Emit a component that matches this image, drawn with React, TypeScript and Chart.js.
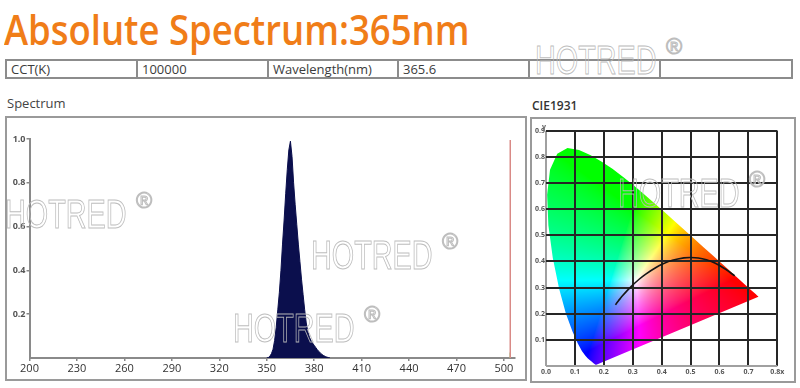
import React, { useEffect, useRef } from 'react';
import { Chart, registerables } from 'chart.js';
Chart.register(...registerables);

// ---------- data ----------
const titleText = 'Absolute Spectrum:365nm';
const tableCells = ['CCT(K)', '100000', 'Wavelength(nm)', '365.6', '', ''];

// Spectrum (relative intensity vs wavelength, nm)
const wavelengths = [350, 351, 352, 353, 354, 355, 356, 357, 358, 359, 360, 361, 362, 363, 364, 365, 366, 367, 368, 369, 370, 371, 372, 373, 374, 375, 376, 377, 378, 379, 380, 381, 382, 383, 384, 385, 386, 387, 388, 389, 390];
const intensities = [0, 0.002, 0.008, 0.02, 0.04, 0.08, 0.14, 0.22, 0.3, 0.4, 0.52, 0.63, 0.75, 0.86, 0.95, 0.99, 0.92, 0.8, 0.7, 0.61, 0.52, 0.44, 0.36, 0.29, 0.22, 0.16, 0.12, 0.095, 0.08, 0.068, 0.058, 0.048, 0.038, 0.03, 0.022, 0.016, 0.011, 0.007, 0.004, 0.002, 0];
const spectrumXTicks = [200, 230, 260, 290, 320, 350, 380, 410, 440, 470, 500];
const spectrumYTicks = [0.2, 0.4, 0.6, 0.8, 1.0];
const markerWavelength = [504, 504];
const markerLevel = [0, 0.995];
const markerBaseLevel = [0, 0.025];

// CIE 1931 spectral locus (x, y)
const locusX = [0.1741, 0.1733, 0.1726, 0.1714, 0.1689, 0.1644, 0.1566, 0.1510, 0.1440, 0.1355, 0.1241, 0.1096, 0.0913, 0.0687, 0.0454, 0.0235, 0.0082, 0.0039, 0.0139, 0.0389, 0.0743, 0.1142, 0.1547, 0.1929, 0.2296, 0.2658, 0.3016, 0.3373, 0.3731, 0.4087, 0.4441, 0.4788, 0.5125, 0.5448, 0.5752, 0.6029, 0.6270, 0.6658, 0.6915, 0.7079, 0.7190, 0.7260, 0.7300, 0.7334, 0.7347];
const locusY = [0.0050, 0.0048, 0.0048, 0.0051, 0.0069, 0.0109, 0.0177, 0.0227, 0.0297, 0.0399, 0.0578, 0.0868, 0.1327, 0.2007, 0.2950, 0.4127, 0.5384, 0.6548, 0.7502, 0.8120, 0.8338, 0.8262, 0.8059, 0.7816, 0.7543, 0.7243, 0.6923, 0.6589, 0.6245, 0.5896, 0.5547, 0.5202, 0.4866, 0.4544, 0.4242, 0.3965, 0.3725, 0.3340, 0.3083, 0.2920, 0.2809, 0.2740, 0.2700, 0.2666, 0.2653];

// Planckian locus (x, y), from 1000 K to very high CCT
const planckX = [0.6528, 0.6200, 0.5857, 0.5550, 0.5267, 0.5000, 0.4770, 0.4369, 0.4053, 0.3805, 0.3451, 0.3221, 0.3064, 0.2952, 0.2807, 0.2637, 0.2565, 0.2501, 0.2432, 0.2399];
const planckY = [0.3444, 0.3710, 0.3931, 0.4060, 0.4133, 0.4150, 0.4137, 0.4041, 0.3907, 0.3768, 0.3516, 0.3318, 0.3166, 0.3048, 0.2884, 0.2674, 0.2577, 0.2489, 0.2384, 0.2340];

const watermarks = [
  { x: 535, y: 45 },
  { x: 5, y: 199 },
  { x: 311, y: 240 },
  { x: 233, y: 313 },
  { x: 618, y: 178 },
];

const NAVY = '#0b0f4d';
const UI_FONT = '"Open Sans", "Noto Sans", sans-serif';

function SpectrumChart() {
  const ref = useRef<HTMLCanvasElement>(null);
  useEffect(() => {
    const chart = new Chart(ref.current!, {
      type: 'scatter',
      data: {
        datasets: [
          {
            data: wavelengths.map((w, i) => ({ x: w, y: intensities[i] })),
            showLine: true,
            fill: 'origin',
            backgroundColor: NAVY,
            borderColor: NAVY,
            borderWidth: 1,
            pointRadius: 0,
          },
          {
            data: markerWavelength.map((w, i) => ({ x: w, y: markerLevel[i] })),
            showLine: true,
            borderColor: '#d98a86',
            borderWidth: 1.5,
            pointRadius: 0,
          },
          {
            data: markerWavelength.map((w, i) => ({ x: w, y: markerBaseLevel[i] })),
            showLine: true,
            borderColor: '#86cf72',
            borderWidth: 1.5,
            pointRadius: 0,
          },
        ],
      },
      options: {
        animation: false,
        responsive: false,
        maintainAspectRatio: false,
        events: [],
        plugins: { legend: { display: false }, tooltip: { enabled: false } },
        layout: { padding: { top: 22, right: 10, left: 0, bottom: 0 } },
        scales: {
          x: {
            type: 'linear',
            min: 200,
            max: 507,
            afterFit: (s: any) => { s.height = 21; },
            afterBuildTicks: (s: any) => { s.ticks = spectrumXTicks.map((value) => ({ value })); },
            ticks: {
              autoSkip: false,
              maxRotation: 0,
              padding: 1,
              color: '#333',
              font: { family: UI_FONT, size: 11 },
              callback: (v: any) => String(v),
            },
            grid: { drawOnChartArea: false, tickLength: 3, color: '#888', lineWidth: 1.5 },
            border: { color: '#8a8a8a', width: 2 },
          },
          y: {
            type: 'linear',
            min: 0,
            max: 1,
            afterFit: (s: any) => { s.width = 23.5; },
            afterBuildTicks: (s: any) => { s.ticks = spectrumYTicks.map((value) => ({ value })); },
            ticks: {
              padding: 1,
              color: '#555',
              font: { family: UI_FONT, size: 9, weight: 'bold' },
              callback: (v: any) => Number(v).toFixed(1),
            },
            grid: { drawOnChartArea: false, tickLength: 3, color: '#888', lineWidth: 1.5 },
            border: { color: '#8a8a8a', width: 2 },
          },
        },
      },
    });
    return () => chart.destroy();
  }, []);
  return (
    <canvas
      ref={ref}
      width={519}
      height={262}
      style={{ position: 'absolute', left: 6, top: 117, width: 519, height: 262 }}
    />
  );
}

const cieFillPlugin = {
  id: 'cieFill',
  beforeDraw(chart: any) {
    const { ctx, chartArea: a, scales } = chart;
    const xs = scales.x;
    const ys = scales.y;
    const w = Math.ceil(a.right - a.left);
    const h = Math.ceil(a.bottom - a.top);
    const off = document.createElement('canvas');
    off.width = w;
    off.height = h;
    const octx = off.getContext('2d')!;
    const img = octx.createImageData(w, h);
    const g = 0.7;
    for (let py = 0; py < h; py++) {
      const cy = ys.getValueForPixel(a.top + py + 0.5);
      for (let px = 0; px < w; px++) {
        const cx = xs.getValueForPixel(a.left + px + 0.5);
        const yy = Math.max(cy, 0.003);
        const X = cx / yy;
        const Z = (1 - cx - yy) / yy;
        let r = 3.2406 * X - 1.5372 - 0.4986 * Z;
        let gg = -0.9689 * X + 1.8758 + 0.0415 * Z;
        let b = 0.0557 * X - 0.204 + 1.057 * Z;
        r = Math.max(r, 0); gg = Math.max(gg, 0); b = Math.max(b, 0);
        const m = Math.max(r, gg, b, 1e-6);
        const i = (py * w + px) * 4;
        img.data[i] = Math.round(255 * Math.pow(r / m, g));
        img.data[i + 1] = Math.round(255 * Math.pow(gg / m, g));
        img.data[i + 2] = Math.round(255 * Math.pow(b / m, g));
        img.data[i + 3] = 255;
      }
    }
    octx.putImageData(img, 0, 0);
    ctx.save();
    ctx.beginPath();
    locusX.forEach((vx, i) => {
      const px = xs.getPixelForValue(vx);
      const py = ys.getPixelForValue(locusY[i]);
      if (i === 0) ctx.moveTo(px, py); else ctx.lineTo(px, py);
    });
    ctx.closePath();
    ctx.clip();
    ctx.drawImage(off, a.left, a.top);
    ctx.restore();
  },
  afterDraw(chart: any) {
    const { ctx, scales } = chart;
    ctx.save();
    ctx.fillStyle = '#666';
    ctx.font = 'bold 7px "Open Sans", sans-serif';
    ctx.textAlign = 'center';
    ctx.fillText('y', scales.x.getPixelForValue(0) - 2, scales.y.getPixelForValue(0.9) - 2);
    ctx.restore();
  },
};

function CieChart() {
  const ref = useRef<HTMLCanvasElement>(null);
  useEffect(() => {
    const chart = new Chart(ref.current!, {
      type: 'scatter',
      data: {
        datasets: [
          {
            data: planckX.map((x, i) => ({ x, y: planckY[i] })),
            showLine: true,
            borderColor: '#151515',
            borderWidth: 1.6,
            pointRadius: 0,
            tension: 0.3,
          },
        ],
      },
      options: {
        animation: false,
        responsive: false,
        maintainAspectRatio: false,
        events: [],
        plugins: { legend: { display: false }, tooltip: { enabled: false } },
        layout: { padding: { top: 12.7, right: 16.7, left: 0, bottom: 0 } },
        scales: {
          x: {
            type: 'linear',
            min: 0,
            max: 0.8,
            afterFit: (s: any) => { s.height = 15; },
            ticks: {
              stepSize: 0.1,
              autoSkip: false,
              maxRotation: 0,
              padding: 2,
              color: '#555',
              font: { family: UI_FONT, size: 7, weight: 'bold' },
              callback: (v: any) => (Math.abs(v - 0.8) < 1e-6 ? '0.8x' : Number(v).toFixed(1)),
            },
            grid: {
              drawTicks: false,
              color: (c: any) => (Math.abs(c.tick.value) < 1e-6 ? '#a0a0a0' : '#262626'),
              lineWidth: 2,
            },
            border: { display: false },
          },
          y: {
            type: 'linear',
            min: 0,
            max: 0.9,
            afterFit: (s: any) => { s.width = 14; },
            ticks: {
              stepSize: 0.1,
              padding: 1,
              color: '#555',
              font: { family: UI_FONT, size: 7, weight: 'bold' },
              callback: (v: any) => (Math.abs(v) < 1e-6 ? '' : Number(v).toFixed(1)),
            },
            grid: {
              drawTicks: false,
              color: (c: any) => (Math.abs(c.tick.value) < 1e-6 ? '#a0a0a0' : '#262626'),
              lineWidth: 2,
            },
            border: { display: false },
          },
        },
      },
      plugins: [cieFillPlugin],
    });
    return () => chart.destroy();
  }, []);
  return (
    <canvas
      ref={ref}
      width={262}
      height={263}
      style={{ position: 'absolute', left: 532, top: 118, width: 262, height: 263 }}
    />
  );
}

function Watermark({ x, y }: { x: number; y: number }) {
  const stroke: React.CSSProperties = {
    color: 'transparent',
    WebkitTextStroke: '1px rgba(185,185,185,0.95)',
    fontFamily: '"Liberation Sans", Arial, sans-serif',
    lineHeight: 1,
    whiteSpace: 'nowrap',
    position: 'absolute',
  };
  return (
    <>
      <div style={{ ...stroke, left: x, top: y - 5.2, fontSize: 40, transform: 'scaleX(0.72)', transformOrigin: '0 0' }}>
        HOTRED
      </div>
      <div style={{ ...stroke, left: x + 131, top: y - 9.5, fontSize: 22 }}>®</div>
    </>
  );
}

export default function App() {
  const colLefts = [5, 136, 267, 397, 528, 659];
  const colRights = [136, 267, 397, 528, 659, 793];
  return (
    <div
      style={{
        position: 'fixed',
        left: 0,
        top: 0,
        width: 800,
        height: 388,
        background: '#fff',
        overflow: 'hidden',
        fontFamily: UI_FONT,
      }}
    >
      <div
        style={{
          position: 'absolute',
          left: 4,
          top: 7.5,
          fontSize: 42,
          lineHeight: 1,
          fontWeight: 600,
          color: '#f07d18',
          whiteSpace: 'nowrap',
          transform: 'scaleX(0.868)',
          transformOrigin: '0 0',
        }}
      >
        {titleText}
      </div>

      {tableCells.map((t, i) => (
        <div
          key={i}
          style={{
            position: 'absolute',
            left: colLefts[i],
            top: 59,
            width: colRights[i] - colLefts[i],
            height: 20,
            boxSizing: 'border-box',
            border: '2px solid #8c8c8c',
            borderRight: i === tableCells.length - 1 ? '2px solid #8c8c8c' : 'none',
            fontSize: 13,
            color: '#3c3c3c',
            lineHeight: '16px',
            paddingLeft: 4,
            whiteSpace: 'nowrap',
          }}
        >
          {t}
        </div>
      ))}

      <div style={{ position: 'absolute', left: 7, top: 97, fontSize: 13, lineHeight: 1, color: '#444' }}>Spectrum</div>
      <div style={{ position: 'absolute', left: 532, top: 100, fontSize: 12, lineHeight: 1, fontWeight: 600, color: '#333' }}>CIE1931</div>

      <div
        style={{
          position: 'absolute',
          left: 5,
          top: 116,
          width: 522,
          height: 265,
          boxSizing: 'border-box',
          border: '2px solid #9a9a9a',
        }}
      />
      <div
        style={{
          position: 'absolute',
          left: 530,
          top: 117,
          width: 266,
          height: 266,
          boxSizing: 'border-box',
          border: '2px solid #9a9a9a',
        }}
      />

      <SpectrumChart />
      <CieChart />

      {watermarks.map((w, i) => (
        <Watermark key={i} x={w.x} y={w.y} />
      ))}
    </div>
  );
}
